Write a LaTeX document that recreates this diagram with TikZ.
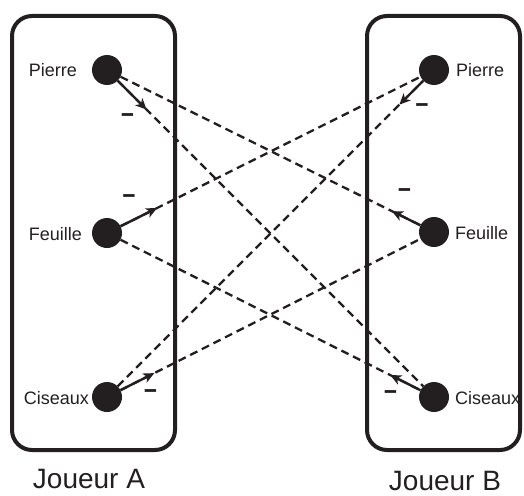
\documentclass[tikz,border=0pt]{standalone}
\usepackage{fontspec}
\usepackage{graphicx}
\setmainfont{Liberation Sans}
\usetikzlibrary{arrows.meta,calc}
\definecolor{ink}{RGB}{35,31,32}
\newcommand{\minusbar}{\scalebox{1.15}[1.4]{–}}
\begin{document}
\begin{tikzpicture}[x=1pt,y=-1pt,
  playerbox/.style={draw=ink,line width=4pt,rounded corners=20pt},
  dot/.style={circle,fill=ink,draw=none,minimum size=30pt,inner sep=0pt},
  lbl/.style={font=\fontsize{18}{20}\selectfont,text=ink,inner sep=0pt},
  title/.style={font=\fontsize{28}{30}\selectfont,text=ink,inner sep=0pt,anchor=base},
  minus/.style={font=\fontsize{20}{20}\bfseries\selectfont,text=ink,inner sep=0pt},
  dashline/.style={draw=ink,line width=2.3pt,dash pattern=on 8pt off 5pt},
  arr/.style={draw=ink,line width=2.4pt,-{Stealth[length=11pt,width=10pt,inset=3pt]}}]
\useasboundingbox (0,0) rectangle (524,495);
% boxes
\draw[playerbox] (12,16) rectangle (175,450);
\draw[playerbox] (367,16) rectangle (520,450);
% circles
\node[dot] (ap) at (107,70) {};
\node[dot] (af) at (107,233) {};
\node[dot] (ac) at (107,397) {};
\node[dot] (bp) at (434,70) {};
\node[dot] (bf) at (434,232) {};
\node[dot] (bc) at (434,397) {};
% labels
\node[lbl,anchor=base east] (lap) at (77,76) {Pierre};
\node[lbl,anchor=base east] (laf) at (82,240) {Feuille};
\node[lbl,anchor=base east] (lac) at (89,404) {Ciseaux};
\node[lbl,anchor=base west] (lbp) at (456,76) {Pierre};
\node[lbl,anchor=base west] (lbf) at (455,239) {Feuille};
\node[lbl,anchor=base west] (lbc) at (455,404) {Ciseaux};
\node[title] (ja) at (89,488) {Joueur A};
\node[title] (jb) at (445,490) {Joueur B};
% dashed connectors
\draw[dashline] (ap) -- (bf);
\draw[dashline] (ap) -- (bc);
\draw[dashline] (af) -- (bp);
\draw[dashline] (af) -- (bc);
\draw[dashline] (ac) -- (bp);
\draw[dashline] (ac) -- (bf);
% arrow tips
\coordinate (t1) at ($(bf)!47pt!(ap)$);
\coordinate (t2) at ($(ap)!56pt!(bc)$);
\coordinate (t3) at ($(af)!56pt!(bp)$);
\coordinate (t4) at ($(bc)!49pt!(af)$);
\coordinate (t5) at ($(bp)!49pt!(ac)$);
\coordinate (t6) at ($(ac)!53pt!(bf)$);
\draw[arr] (bf) -- (t1);
\draw[arr] (ap) -- (t2);
\draw[arr] (af) -- (t3);
\draw[arr] (bc) -- (t4);
\draw[arr] (bp) -- (t5);
\draw[arr] (ac) -- (t6);
% minus signs
\node[minus] (m1) at (127.5,118) {\minusbar};
\node[minus] (m2) at (129,199) {\minusbar};
\node[minus] (m3) at (150.5,394) {\minusbar};
\node[minus] (m4) at (422,108) {\minusbar};
\node[minus] (m5) at (404.5,193) {\minusbar};
\node[minus] (m6) at (390.5,395) {\minusbar};
\end{tikzpicture}
\end{document}
